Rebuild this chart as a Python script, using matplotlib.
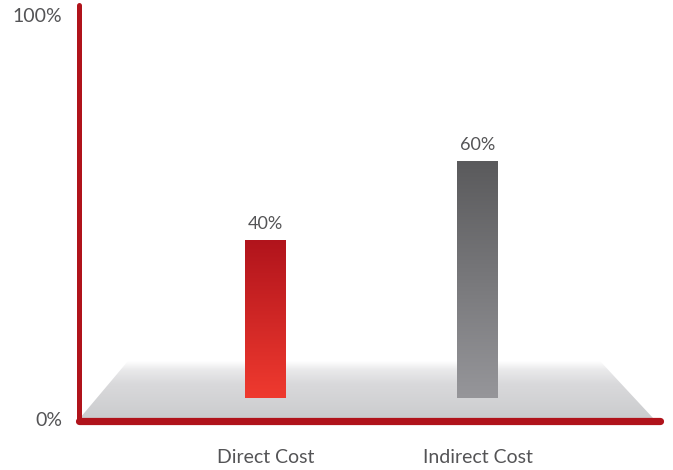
import numpy as np
import matplotlib.pyplot as plt
from matplotlib.colors import LinearSegmentedColormap
from matplotlib.patches import Polygon

categories = ['Direct Cost', 'Indirect Cost']
values = [40, 60]
value_labels = ['40%', '60%']
axis_labels = ['0%', '100%']

plt.rcParams['font.family'] = ['Lato', 'DejaVu Sans']
txt = '#545456'
red = '#b0131b'

fig = plt.figure(figsize=(6.73, 4.70), dpi=100)
# axes box: left spine at x=79px, bottom spine at y=421px, top at y=5px
ax = fig.add_axes([79 / 673, 49 / 470, 581 / 673, 416 / 470])
px = 212.0   # pixels per category step
py = 3.95    # pixels per percent
ax.set_xlim(-(265.5 - 79) / px, (660 - 265.5) / px)
ax.set_ylim((398 - 421) / py, (398 - 5) / py)
y0, y1 = ax.get_ylim()
x0, x1 = ax.get_xlim()

for s in ['top', 'right']:
    ax.spines[s].set_visible(False)
ax.spines['left'].set_color(red)
ax.spines['left'].set_linewidth(3.6)
ax.spines['bottom'].set_color(red)
ax.spines['bottom'].set_linewidth(5.2)
ax.spines['left'].set_capstyle('round')
ax.spines['bottom'].set_capstyle('round')

# floor
fb, ft = (398 - 418) / py, (398 - 361) / py
floor = Polygon([[x0 + 1 / px, fb], [x0 + 49 / px, ft], [x0 + 521 / px, ft], [x0 + 574 / px, fb]],
                closed=True, facecolor='none', edgecolor='none')
ax.add_patch(floor)
floor_cmap = LinearSegmentedColormap.from_list(
    'floor', [(0, '#cbccce'), (0.6, '#d9d9db'), (0.85, '#eaeaeb'), (1, '#ffffff')])
g = np.linspace(0, 1, 256).reshape(-1, 1)
im = ax.imshow(g, aspect='auto', cmap=floor_cmap, origin='lower',
               extent=[x0, x1, fb, ft], zorder=1)
im.set_clip_path(floor)

# bars with vertical gradients
bar_cmaps = [
    LinearSegmentedColormap.from_list('r', ['#ef3a2f', '#b1141c']),
    LinearSegmentedColormap.from_list('g', ['#96969a', '#5a5a5c']),
]
xs = np.arange(len(categories))
bars = ax.bar(xs, values, width=41 / px, color='none', zorder=2)
for b, cm in zip(bars, bar_cmaps):
    bx, bw, bh = b.get_x(), b.get_width(), b.get_height()
    bim = ax.imshow(g, aspect='auto', cmap=cm, origin='lower',
                    extent=[bx, bx + bw, 0, bh], zorder=3)
    bim.set_clip_path(b)

for xi, v, lab in zip(xs, values, value_labels):
    ax.annotate(lab, (xi, v), xytext=(0, 6), textcoords='offset points',
                ha='center', va='bottom', fontsize=13, color=txt)

ax.set_xticks(xs, categories)
ax.tick_params(axis='x', length=0, pad=20.5, labelsize=14, labelcolor=txt)
ax.set_yticks([])
ax.text(-17 / 581, 1 - 11 / 416, axis_labels[1], transform=ax.transAxes,
        ha='right', va='center', fontsize=14, color=txt)
ax.text(-17 / 581, 1 / 416, axis_labels[0], transform=ax.transAxes,
        ha='right', va='center', fontsize=14, color=txt)

fig.savefig('out.png', dpi=100)
